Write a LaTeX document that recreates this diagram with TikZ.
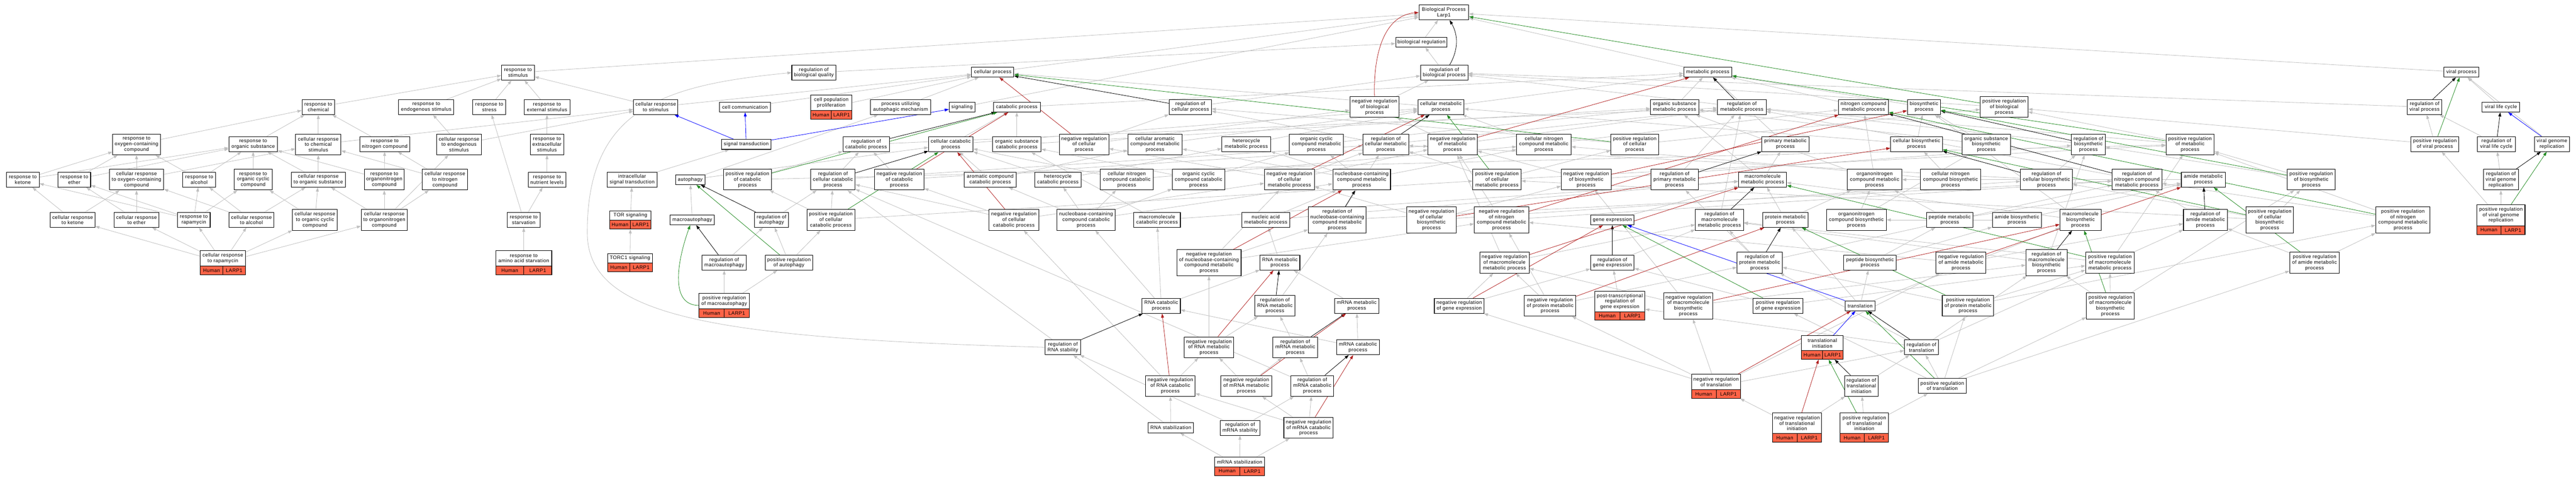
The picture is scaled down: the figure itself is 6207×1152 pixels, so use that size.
\documentclass[tikz,border=0pt]{standalone}
\usepackage{fontspec}
\setmainfont{Liberation Sans}[LetterSpace=4]
\usetikzlibrary{arrows.meta,backgrounds}
\definecolor{isagray}{RGB}{192,192,192}
\definecolor{negred}{RGB}{178,34,34}
\definecolor{posgreen}{RGB}{34,139,34}
\definecolor{partblue}{RGB}{0,0,255}
\definecolor{genefill}{RGB}{255,99,71}
\newcommand{\gnode}[6]{%
  \pgfmathsetmacro{\GNh}{#4-#3}%
  \pgfmathsetmacro{\GNy}{(#3+#4)/2}%
  \pgfmathsetmacro{\GNr}{#4-21}%
  \pgfmathsetmacro{\GNt}{(#3+#4-21)/2}%
  \pgfmathsetmacro{\GNl}{#2-#5/2}%
  \pgfmathsetmacro{\GNrt}{#2+#5/2}%
  \node[gonode, minimum width=#5pt, minimum height=\GNh pt, inner sep=0pt] (#1) at (#2,\GNy) {};
  \fill[genefill] (\GNl,\GNr) rectangle (\GNrt,#4);
  \draw[line width=1.3pt] (\GNl,#3) rectangle (\GNrt,#4);
  \draw[line width=1pt] (\GNl,\GNr) -- (\GNrt,\GNr) (#2,\GNr) -- (#2,#4);
  \node[gtxt] at ({(\GNl+#2)/2},{\GNr+10.5}) {Human};
  \node[gtxt] at ({(#2+\GNrt)/2},{\GNr+10.5}) {LARP1};
  \node[gtxt] at (#2,\GNt) {#6};
}
\begin{document}
\begin{tikzpicture}[x=1pt,y=-1pt,
  gonode/.style={draw=black, line width=1.3pt, fill=white, align=center, inner xsep=3pt, inner ysep=2pt, font=\fontsize{12}{13.3}\selectfont},
  gtxt/.style={align=center, inner sep=0pt, font=\fontsize{12}{13.3}\selectfont},
  l1/.style={minimum height=24pt},
  l2/.style={minimum height=36pt},
  l3/.style={minimum height=50pt},
  l4/.style={minimum height=63pt},
  mw/.style={minimum width=#1*1pt},
  ebase/.style={line width=1pt, -{Triangle[length=10pt,width=7pt]}},
  isaedge/.style={ebase, draw=isagray},
  regedge/.style={ebase, draw=black},
  negedge/.style={ebase, draw=negred},
  posedge/.style={ebase, draw=posgreen},
  partedge/.style={ebase, draw=partblue}]
\useasboundingbox (0,0) rectangle (6207,1152);
% ---------- row A
\node[gonode,l2,mw=120] (bp) at (3479,30) {Biological Process\\Larp1};
\node[gonode,l1,mw=124] (breg) at (3425,102) {biological regulation};
\node[gonode,l2,mw=114] (rbp) at (3480,175) {regulation of\\biological process};
\node[gonode,l2,mw=79] (rstim) at (1248,175) {response to\\stimulus};
\node[gonode,l2,mw=106] (rbq) at (1961,175) {regulation of\\biological quality};
\node[gonode,l1,mw=102] (cp) at (2392,174) {cellular process};
\node[gonode,l1,mw=116] (mp) at (4115,174) {metabolic process};
\node[gonode,l1,mw=84] (vp) at (5931,174) {viral process};
% ---------- row B
\node[gonode,l2,mw=79] (rchem) at (767,258) {response to\\chemical};
\node[gonode,l2,mw=133] (rendo) at (1027,258) {response to\\endogenous stimulus};
\node[gonode,l2,mw=80] (rstress) at (1179,258) {response to\\stress};
\node[gonode,l2,mw=110] (rext) at (1318,258) {response to\\external stimulus};
\node[gonode,l2,mw=107] (crstim) at (1580,258) {cellular response\\to stimulus};
\node[gonode,l1,mw=123] (ccomm) at (1795,258) {cell communication};
\gnode{cpp}{2003}{229}{287}{100}{cell population\\proliferation}
\node[gonode,l2,mw=145] (puam) at (2170,258) {process utilizing\\autophagic mechanism};
\node[gonode,l1,mw=62] (sig) at (2318,258) {signaling};
\node[gonode,l1,mw=113] (catp) at (2450,258) {catabolic process};
\node[gonode,l2,mw=102] (rcp) at (2868,258) {regulation of\\cellular process};
\node[gonode,l3,mw=119] (nrbp) at (3312,258) {negative regulation\\of biological\\process};
\node[gonode,l2,mw=111] (cmp) at (3472,258) {cellular metabolic\\process};
\node[gonode,l2,mw=116] (osmp) at (4035,258) {organic substance\\metabolic process};
\node[gonode,l2,mw=117] (rmp) at (4197,258) {regulation of\\metabolic process};
\node[gonode,l2,mw=121] (ncmp) at (4490,258) {nitrogen compound\\metabolic process};
\node[gonode,l2,mw=80] (bsp) at (4636,258) {biosynthetic\\process};
\node[gonode,l3,mw=115] (prbp) at (4829,258) {positive regulation\\of biological\\process};
\node[gonode,l2,mw=84] (rvp) at (5842,258) {regulation of\\viral process};
\node[gonode,l1,mw=91] (vlc) at (6026,258) {viral life cycle};
% ---------- row C
\node[gonode,l3,mw=115] (roxy) at (329,348) {response to\\oxygen-containing\\compound};
\node[gonode,l2,mw=117] (rorg) at (610,347) {response to\\organic substance};
\node[gonode,l3,mw=109] (crchem) at (767,348) {cellular response\\to chemical\\stimulus};
\node[gonode,l2,mw=120] (rnitro) at (927,347) {response to\\nitrogen compound};
\node[gonode,l3,mw=108] (crendo) at (1106,348) {cellular response\\to endogenous\\stimulus};
\node[gonode,l3,mw=81] (rextra) at (1318,348) {response to\\extracellular\\stimulus};
\node[gonode,l1,mw=120] (sigt) at (1798,348) {signal transduction};
\node[gonode,l2,mw=112] (rcatp) at (2087,348) {regulation of\\catabolic process};
\node[gonode,l2,mw=107] (ccatp) at (2291,348) {cellular catabolic\\process};
\node[gonode,l2,mw=117] (oscatp) at (2450,348) {organic substance\\catabolic process};
\node[gonode,l3,mw=119] (nrcp) at (2612,348) {negative regulation\\of cellular\\process};
\node[gonode,l3,mw=131] (camp) at (2783,348) {cellular aromatic\\compound metabolic\\process};
\node[gonode,l2,mw=117] (hmp) at (3003,347) {heterocycle\\metabolic process};
\node[gonode,l3,mw=130] (occmp) at (3172,348) {organic cyclic\\compound metabolic\\process};
\node[gonode,l3,mw=110] (rcmp) at (3339,348) {regulation of\\cellular metabolic\\process};
\node[gonode,l3,mw=119] (nrmp) at (3500,348) {negative regulation\\of metabolic\\process};
\node[gonode,l3,mw=131] (cncmp) at (3720,348) {cellular nitrogen\\compound metabolic\\process};
\node[gonode,l3,mw=115] (prcp) at (3939,348) {positive regulation\\of cellular\\process};
\node[gonode,l2,mw=114] (pmp) at (4302,347) {primary metabolic\\process};
\node[gonode,l2,mw=125] (cbsp) at (4618,347) {cellular biosynthetic\\process};
\node[gonode,l3,mw=116] (osbsp) at (4786,348) {organic substance\\biosynthetic\\process};
\node[gonode,l3,mw=81] (rbsp) at (5032,348) {regulation of\\biosynthetic\\process};
\node[gonode,l3,mw=116] (prmp) at (5277,348) {positive regulation\\of metabolic\\process};
\node[gonode,l2,mw=115] (prvp) at (5867,347) {positive regulation\\of viral process};
\node[gonode,l2,mw=91] (rvlc) at (6015,347) {regulation of\\viral life cycle};
\node[gonode,l2,mw=85] (vgr) at (6149,347) {viral genome\\replication};
% ---------- row D
\node[gonode,l2,mw=79] (rket) at (55,433) {response to\\ketone};
\node[gonode,l2,mw=79] (reth) at (179,433) {response to\\ether};
\node[gonode,l3,mw=131] (croxy) at (329,433) {cellular response\\to oxygen-containing\\compound};
\node[gonode,l2,mw=79] (ralc) at (480,433) {response to\\alcohol};
\node[gonode,l3,mw=91] (rocc) at (610,433) {response to\\organic cyclic\\compound};
\node[gonode,l2,mw=131] (crorg) at (767,433) {cellular response\\to organic substance};
\node[gonode,l3,mw=95] (rorgn) at (926,433) {response to\\organonitrogen\\compound};
\node[gonode,l3,mw=109] (crnitro) at (1072,433) {cellular response\\to nitrogen\\compound};
\node[gonode,l2,mw=91] (rnut) at (1318,433) {response to\\nutrient levels};
\node[gonode,l2,mw=120] (ist) at (1523,433) {intracellular\\signal transduction};
\node[gonode,l1,mw=71] (auto) at (1663,433) {autophagy};
\node[gonode,l3,mw=115] (prcatp) at (1801,433) {positive regulation\\of catabolic\\process};
\node[gonode,l3,mw=107] (rccatp) at (2007,433) {regulation of\\cellular catabolic\\process};
\node[gonode,l3,mw=119] (nrcatp) at (2167,433) {negative regulation\\of catabolic\\process};
\node[gonode,l2,mw=125] (accatp) at (2386,433) {aromatic compound\\catabolic process};
\node[gonode,l2,mw=112] (hcatp) at (2549,433) {heterocycle\\catabolic process};
\node[gonode,l3,mw=127] (cnccatp) at (2715,433) {cellular nitrogen\\compound catabolic\\process};
\node[gonode,l3,mw=127] (occcatp) at (2888,433) {organic cyclic\\compound catabolic\\process};
\node[gonode,l3,mw=120] (nrcmp) at (3107,433) {negative regulation\\of cellular\\metabolic process};
\node[gonode,l3,mw=139] (nbcmp) at (3281,433) {nucleobase-containing\\compound metabolic\\process};
\node[gonode,l3,mw=116] (prcmp) at (3607,433) {positive regulation\\of cellular\\metabolic process};
\node[gonode,l3,mw=120] (nrbsp) at (3822,433) {negative regulation\\of biosynthetic\\process};
\node[gonode,l3,mw=114] (rpmp) at (4035,433) {regulation of\\primary metabolic\\process};
\node[gonode,l2,mw=116] (mmp) at (4247,433) {macromolecule\\metabolic process};
\node[gonode,l3,mw=131] (oncmp) at (4517,433) {organonitrogen\\compound metabolic\\process};
\node[gonode,l3,mw=145] (cncbsp) at (4700,433) {cellular nitrogen\\compound biosynthetic\\process};
\node[gonode,l3,mw=125] (rcbsp) at (4931,433) {regulation of\\cellular biosynthetic\\process};
\node[gonode,l3,mw=120] (rncmp) at (5149,433) {regulation of\\nitrogen compound\\metabolic process};
\node[gonode,l2,mw=106] (amp) at (5309,433) {amide metabolic\\process};
\node[gonode,l3,mw=115] (prbsp) at (5569,433) {positive regulation\\of biosynthetic\\process};
\node[gonode,l3,mw=84] (rvgr) at (6026,433) {regulation of\\viral genome\\replication};
% ---------- row E
\node[gonode,l2,mw=108] (crket) at (175,530) {cellular response\\to ketone};
\node[gonode,l2,mw=108] (creth) at (329,530) {cellular response\\to ether};
\node[gonode,l2,mw=79] (rrap) at (467,530) {response to\\rapamycin};
\node[gonode,l2,mw=108] (cralc) at (606,530) {cellular response\\to alcohol};
\node[gonode,l3,mw=108] (crocc) at (759,530) {cellular response\\to organic cyclic\\compound};
\node[gonode,l3,mw=111] (crorgn) at (926,530) {cellular response\\to organonitrogen\\compound};
\node[gonode,l2,mw=80] (rstarv) at (1262,530) {response to\\starvation};
\gnode{tor}{1519}{508}{552}{100}{TOR signaling}
\node[gonode,l1,mw=107] (macro) at (1668,530) {macroautophagy};
\node[gonode,l2,mw=82] (rauto) at (1859,530) {regulation of\\autophagy};
\node[gonode,l3,mw=115] (prccatp) at (2002,530) {positive regulation\\of cellular\\catabolic process};
\node[gonode,l3,mw=120] (nrccatp) at (2443,530) {negative regulation\\of cellular\\catabolic process};
\node[gonode,l3,mw=140] (nbccatp) at (2617,530) {nucleobase-containing\\compound catabolic\\process};
\node[gonode,l2,mw=112] (mcatp) at (2788,530) {macromolecule\\catabolic process};
\node[gonode,l2,mw=116] (nacmp) at (3050,530) {nucleic acid\\metabolic process};
\node[gonode,l4,mw=139] (rnbcmp) at (3222,530) {regulation of\\nucleobase-containing\\compound metabolic\\process};
\node[gonode,l4,mw=119] (nrcbsp) at (3449,530) {negative regulation\\of cellular\\biosynthetic\\process};
\node[gonode,l4,mw=131] (nrncmp) at (3618,530) {negative regulation\\of nitrogen\\compound metabolic\\process};
\node[gonode,l1,mw=105] (gexp) at (3885,530) {gene expression};
\node[gonode,l3,mw=116] (rmmp) at (4143,530) {regulation of\\macromolecule\\metabolic process};
\node[gonode,l2,mw=110] (protmp) at (4302,530) {protein metabolic\\process};
\node[gonode,l3,mw=144] (oncbsp) at (4473,530) {organonitrogen\\compound biosynthetic\\process};
\node[gonode,l2,mw=111] (pepmp) at (4698,530) {peptide metabolic\\process};
\node[gonode,l2,mw=119] (amidebsp) at (4860,530) {amide biosynthetic\\process};
\node[gonode,l3,mw=99] (mbsp) at (5013,530) {macromolecule\\biosynthetic\\process};
\node[gonode,l3,mw=106] (ramp) at (5314,530) {regulation of\\amide metabolic\\process};
\node[gonode,l4,mw=115] (prcbsp) at (5469,530) {positive regulation\\of cellular\\biosynthetic\\process};
\node[gonode,l4,mw=131] (prncmp) at (5790,530) {positive regulation\\of nitrogen\\compound metabolic\\process};
\gnode{prvgr}{6026}{493}{565}{116}{positive regulation\\of viral genome\\replication}
% ---------- row F
\gnode{crrap}{537}{604}{662}{109}{cellular response\\to rapamycin}
\gnode{raas}{1262}{604}{662}{135}{response to\\amino acid starvation}
\gnode{torc1}{1518}{611}{655}{108}{TORC1 signaling}
\node[gonode,l2,mw=107] (rmacro) at (1745,633) {regulation of\\macroautophagy};
\node[gonode,l2,mw=115] (prauto) at (1901,633) {positive regulation\\of autophagy};
\node[gonode,l4,mw=155] (nrnbcmp) at (2913,633) {negative regulation\\of nucleobase-containing\\compound metabolic\\process};
\node[gonode,l2,mw=96] (rnamp) at (3084,633) {RNA metabolic\\process};
\node[gonode,l3,mw=119] (nrmmp) at (3625,633) {negative regulation\\of macromolecule\\metabolic process};
\node[gonode,l2,mw=105] (rgexp) at (3885,633) {regulation of\\gene expression};
\node[gonode,l3,mw=109] (rprotmp) at (4240,633) {regulation of\\protein metabolic\\process};
\node[gonode,l2,mw=127] (pepbsp) at (4506,633) {peptide biosynthetic\\process};
\node[gonode,l3,mw=120] (nramp) at (4725,633) {negative regulation\\of amide metabolic\\process};
\node[gonode,l4,mw=99] (rmbsp) at (4931,633) {regulation of\\macromolecule\\biosynthetic\\process};
\node[gonode,l3,mw=117] (prmmp) at (5084,633) {positive regulation\\of macromolecule\\metabolic process};
\node[gonode,l3,mw=120] (pramp) at (5577,633) {positive regulation\\of amide metabolic\\process};
% ---------- row G
\gnode{prmacro}{1745}{707}{765}{121}{positive regulation\\of macroautophagy}
\node[gonode,l2,mw=92] (rnacatp) at (2798,737) {RNA catabolic\\process};
\node[gonode,l3,mw=97] (rrnamp) at (3072,737) {regulation of\\RNA metabolic\\process};
\node[gonode,l2,mw=107] (mrnamp) at (3269,737) {mRNA metabolic\\process};
\node[gonode,l2,mw=120] (nrgexp) at (3516,737) {negative regulation\\of gene expression};
\node[gonode,l3,mw=124] (nrprotmp) at (3735,737) {negative regulation\\of protein metabolic\\process};
\gnode{ptgexp}{3903}{702}{772}{121}{post-transcriptional\\regulation of\\gene expression}
\node[gonode,l4,mw=119] (nrmbsp) at (4068,737) {negative regulation\\of macromolecule\\biosynthetic\\process};
\node[gonode,l2,mw=120] (prgexp) at (4284,737) {positive regulation\\of gene expression};
\node[gonode,l1,mw=71] (transl) at (4482,737) {translation};
\node[gonode,l3,mw=124] (prprotmp) at (4742,737) {positive regulation\\of protein metabolic\\process};
\node[gonode,l4,mw=116] (prmbsp) at (5085,737) {positive regulation\\of macromolecule\\biosynthetic\\process};
% ---------- row H
\node[gonode,l2,mw=86] (rrnastab) at (2561,837) {regulation of\\RNA stability};
\node[gonode,l3,mw=119] (nrrnamp) at (2913,837) {negative regulation\\of RNA metabolic\\process};
\node[gonode,l3,mw=108] (rmrnamp) at (3121,837) {regulation of\\mRNA metabolic\\process};
\node[gonode,l2,mw=103] (mrnacatp) at (3272,837) {mRNA catabolic\\process};
\gnode{transinit}{4391}{809}{866}{100}{translational\\initiation}
\node[gonode,l2,mw=82] (rtransl) at (4630,837) {regulation of\\translation};
% ---------- row I
\node[gonode,l3,mw=119] (nrrnacatp) at (2820,930) {negative regulation\\of RNA catabolic\\process};
\node[gonode,l3,mw=123] (nrmrnamp) at (3003,930) {negative regulation\\of mRNA metabolic\\process};
\node[gonode,l3,mw=103] (rmrnacatp) at (3162,930) {regulation of\\mRNA catabolic\\process};
\gnode{nrtransl}{4135}{902}{960}{119}{negative regulation\\of translation}
\node[gonode,l3,mw=81] (rtransinit) at (4485,930) {regulation of\\translational\\initiation};
\node[gonode,l2,mw=115] (prtransl) at (4680,930) {positive regulation\\of translation};
% ---------- row J / K
\node[gonode,l1,mw=109] (rnastab) at (2821,1031) {RNA stabilization};
\node[gonode,l2,mw=96] (rmrnastab) at (2988,1031) {regulation of\\mRNA stability};
\node[gonode,l3,mw=119] (nrmrnacatp) at (3153,1031) {negative regulation\\of mRNA catabolic\\process};
\gnode{nrtransinit}{4330}{995}{1066}{118}{negative regulation\\of translational\\initiation}
\gnode{prtransinit}{4492}{995}{1066}{117}{positive regulation\\of translational\\initiation}
\gnode{mrnastab}{2987}{1102}{1146}{121}{mRNA stabilization}
% ================= edges
\begin{pgfonlayer}{background}
\fill[white] (0,0) rectangle (6207,1152);
\foreach \a/\b in {rstim/bp, cp/bp, mp/bp, vp/bp, breg/bp, sig/bp, cpp/cp, ccomm/cp, puam/cp, crstim/cp, cmp/cp,
 rbq/breg, rbp/breg,
 rchem/rstim, rendo/rstim, rstress/rstim, rext/rstim, crstim/rstim,
 roxy/rchem, rorg/rchem, crchem/rchem, crchem/crstim, rnitro/rchem,
 crendo/rendo, crendo/crstim, rextra/rext,
 rket/roxy, rket/rorg, reth/roxy, reth/rorg, croxy/roxy, croxy/crchem, ralc/roxy, ralc/rorg,
 rocc/rorg, crorg/rorg, crorg/crchem, rorgn/rnitro, rorgn/rorg, crnitro/rnitro, crnitro/crchem,
 rnut/rextra,
 crket/rket, crket/croxy, creth/reth, creth/croxy,
 rrap/rket, rrap/reth, rrap/ralc, rrap/rocc,
 cralc/ralc, cralc/croxy, cralc/crorg,
 crocc/rocc, crocc/crorg,
 crorgn/rorgn, crorgn/crorg, crorgn/crnitro, crorgn/crendo,
 crrap/rrap, crrap/crket, crrap/creth, crrap/cralc, crrap/crocc, crrap/crorgn,
 rstarv/rstress, rstarv/rnut, raas/rstarv,
 ist/sigt, tor/ist, torc1/tor,
 auto/puam, auto/ccatp, macro/auto,
 rcp/rbp, nrbp/rbp, prbp/rbp, rmp/rbp, rvp/rbp,
 nrcp/rcp, nrcp/nrbp, prcp/rcp, prcp/prbp,
 nrmp/rmp, nrmp/nrbp, prmp/rmp, prmp/prbp,
 rcmp/rmp, rcmp/rcp,
 nrcmp/rcmp, nrcmp/nrmp, nrcmp/nrcp,
 prcmp/rcmp, prcmp/prmp, prcmp/prcp,
 rpmp/rmp, rncmp/rmp,
 nrncmp/rncmp, nrncmp/nrmp, prncmp/rncmp, prncmp/prmp,
 rmmp/rmp, nrmmp/rmmp, nrmmp/nrmp, prmmp/rmmp, prmmp/prmp,
 rbsp/rmp, nrbsp/rbsp, nrbsp/nrmp, prbsp/rbsp, prbsp/prmp,
 rcbsp/rbsp, rcbsp/rcmp,
 nrcbsp/rcbsp, nrcbsp/nrbsp, nrcbsp/nrcmp,
 prcbsp/rcbsp, prcbsp/prbsp, prcbsp/prcmp,
 rmbsp/rbsp, rmbsp/rmmp,
 nrmbsp/rmbsp, nrmbsp/nrbsp, nrmbsp/nrmmp,
 prmbsp/rmbsp, prmbsp/prbsp, prmbsp/prmmp,
 rgexp/rmmp, nrgexp/rgexp, nrgexp/nrmmp, prgexp/rgexp, prgexp/prmmp, ptgexp/rgexp,
 rprotmp/rmmp, rprotmp/rpmp, rprotmp/rncmp,
 nrprotmp/rprotmp, nrprotmp/nrmmp, nrprotmp/nrncmp,
 prprotmp/rprotmp, prprotmp/prmmp, prprotmp/prncmp,
 ramp/rncmp, nramp/ramp, nramp/nrncmp, pramp/ramp, pramp/prncmp,
 rnbcmp/rcmp, rnbcmp/rncmp,
 nrnbcmp/rnbcmp, nrnbcmp/nrcmp, nrnbcmp/nrncmp,
 rrnamp/rnbcmp, nrrnamp/rrnamp, nrrnamp/nrnbcmp,
 rmrnamp/rrnamp, nrmrnamp/rmrnamp, nrmrnamp/nrrnamp,
 rmrnacatp/rmrnamp, rmrnacatp/rccatp,
 nrmrnacatp/rmrnacatp, nrmrnacatp/nrmrnamp, nrmrnacatp/nrrnacatp,
 nrrnacatp/nrrnamp, nrrnacatp/nrccatp,
 rrnastab/rccatp,
 rnastab/rrnastab, rnastab/nrrnacatp,
 rmrnastab/rrnastab, rmrnastab/rmrnacatp,
 mrnastab/rnastab, mrnastab/rmrnastab, mrnastab/nrmrnacatp,
 rtransl/ptgexp, rtransl/rprotmp, rtransl/ramp, rtransl/rmbsp,
 nrtransl/rtransl, nrtransl/nrgexp, nrtransl/nrprotmp, nrtransl/nramp, nrtransl/nrmbsp,
 prtransl/rtransl, prtransl/prgexp, prtransl/prprotmp, prtransl/pramp, prtransl/prmbsp,
 rtransinit/rtransl, nrtransinit/rtransinit, nrtransinit/nrtransl, prtransinit/rtransinit, prtransinit/prtransl,
 rcatp/rmp, rccatp/rcatp, rccatp/rcmp, prcatp/rcatp, prcatp/prmp, nrcatp/rcatp, nrcatp/nrmp,
 prccatp/rccatp, prccatp/prcatp, prccatp/prcmp, nrccatp/rccatp, nrccatp/nrcatp, nrccatp/nrcmp,
 rauto/rccatp, prauto/rauto, prauto/prccatp, rmacro/rauto, prmacro/rmacro, prmacro/prauto,
 rvlc/rvp, prvp/rvp, prvp/prbp, rvgr/rvlc, prvgr/rvgr, prvgr/prvp, vlc/vp, vgr/vp,
 catp/mp, ccatp/catp, ccatp/cmp, oscatp/catp, oscatp/osmp,
 accatp/ccatp, accatp/camp, hcatp/ccatp, hcatp/hmp, cnccatp/ccatp, cnccatp/cncmp, occcatp/oscatp, occcatp/occmp,
 nbccatp/cnccatp, nbccatp/accatp, nbccatp/hcatp, nbccatp/occcatp, nbccatp/nbcmp,
 mcatp/oscatp, mcatp/mmp,
 rnacatp/mcatp, rnacatp/nbccatp, rnacatp/rnamp,
 mrnacatp/rnacatp, mrnacatp/mrnamp, mrnamp/rnamp, rnamp/nacmp, nacmp/nbcmp, nacmp/mmp,
 nbcmp/camp, nbcmp/hmp, nbcmp/occmp, nbcmp/cncmp,
 camp/cmp, hmp/cmp, occmp/osmp, cncmp/cmp, cncmp/ncmp,
 cmp/mp, osmp/mp, pmp/mp, ncmp/mp, bsp/mp,
 mmp/osmp, mmp/pmp, oncmp/osmp, oncmp/ncmp,
 protmp/mmp, protmp/oncmp,
 cbsp/bsp, cbsp/cmp, osbsp/bsp, osbsp/osmp,
 cncbsp/cncmp, cncbsp/cbsp, oncbsp/oncmp, oncbsp/osbsp,
 mbsp/mmp, mbsp/bsp, amp/oncmp,
 amidebsp/amp, amidebsp/oncbsp, pepmp/amp, pepmp/oncmp,
 pepbsp/pepmp, pepbsp/amidebsp,
 transl/pepbsp, transl/mbsp, transl/protmp, gexp/mmp}
 \draw[isaedge] (\a) -- (\b);
\draw[isaedge] (rrnastab.west) .. controls (1700,815) and (1415,760) .. (1415,560) .. controls (1415,260) and (1600,205) .. (rbq.west);
% regulates
\foreach \a/\b in {rcp/cp, rmp/mp, rcmp/cmp, rpmp/pmp, rncmp/ncmp, rmmp/mmp, rbsp/bsp, rcbsp/cbsp, rmbsp/mbsp,
 rgexp/gexp, rprotmp/protmp, ramp/amp, rnbcmp/nbcmp, rrnamp/rnamp, rmrnamp/mrnamp, rmrnacatp/mrnacatp,
 rcatp/catp, rccatp/ccatp, rauto/auto, rmacro/macro, rtransl/transl, rtransinit/transinit,
 rvp/vp, rvlc/vlc, rvgr/vgr, rrnastab/rnacatp}
 \draw[regedge] (\a) -- (\b);
\draw[regedge] ([xshift=13pt]rbp.north) to[out=60,in=-60] ([xshift=14pt]bp.south);
% negatively regulates
\foreach \a/\b in {nrcp/cp, nrmp/mp, nrcmp/cmp, nrncmp/ncmp, nrmmp/mmp, nrbsp/bsp, nrcbsp/cbsp, nrmbsp/mbsp,
 nrgexp/gexp, nrprotmp/protmp, nramp/amp, nrnbcmp/nbcmp, nrrnamp/rnamp, nrmrnamp/mrnamp, nrmrnacatp/mrnacatp,
 nrrnacatp/rnacatp, nrcatp/catp, nrccatp/ccatp, nrtransl/transl, nrtransinit/transinit}
 \draw[negedge] (\a) -- (\b);
\draw[negedge] (nrbp.north) to[out=92,in=185] (bp.west);
% positively regulates
\foreach \a/\b in {prbp/bp, prcp/cp, prmp/mp, prcmp/cmp, prncmp/ncmp, prmmp/mmp, prbsp/bsp, prcbsp/cbsp, prmbsp/mbsp,
 prgexp/gexp, prprotmp/protmp, pramp/amp, prcatp/catp, prccatp/ccatp, prauto/auto,
 prtransl/transl, prtransinit/transinit, prvp/vp, prvgr/vgr}
 \draw[posedge] (\a) -- (\b);
\draw[posedge] (prmacro.west) to[out=180,in=-110] ([xshift=-5pt]macro.south);
% part of
\foreach \a/\b in {sigt/crstim, sigt/ccomm, sigt/sig, transl/gexp, transinit/transl, vgr/vlc}
 \draw[partedge] (\a) -- (\b);
\end{pgfonlayer}
\end{tikzpicture}
\end{document}
